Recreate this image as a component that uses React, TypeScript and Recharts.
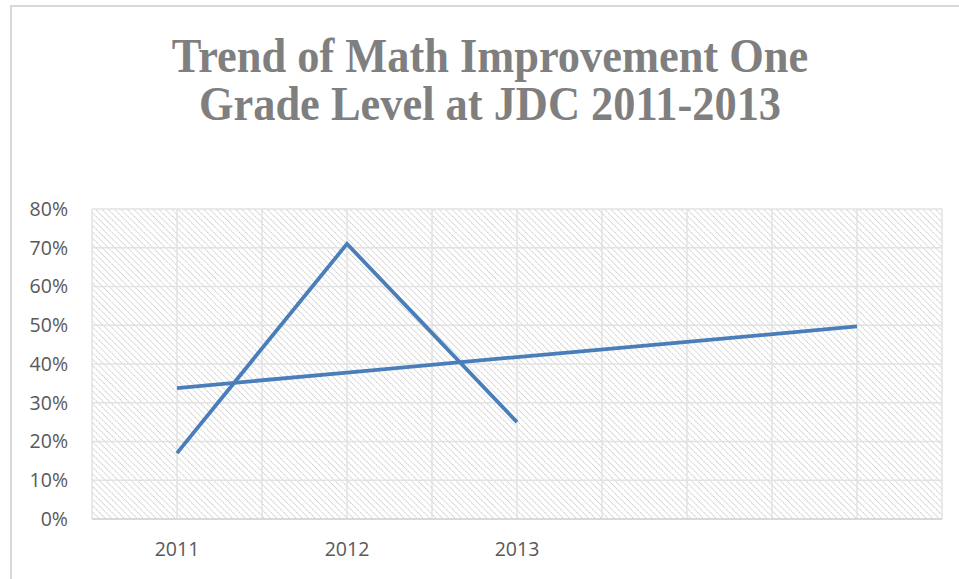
import React from 'react';
import { LineChart, Line, XAxis, YAxis, CartesianGrid } from 'recharts';

// categories along the x axis (last two slots are empty in the original workbook)
const categories = ['2011', '2012', '2013', '', ''];
// share of students improving one grade level, in percent
const improvement = [17, 71, 25, null, null];
// linear trendline values read at each category
const trendline = [33.8, 37.8, 41.8, 45.7, 49.7];
const yTicks = [0, 10, 20, 30, 40, 50, 60, 70, 80];

const BLUE = '#4a7ebb';
const LABEL = '#595959';

// each category sits in the middle of a two-unit slot so the grid also gets a line at the centre
const rows = categories.map((name, i) => ({
  name,
  pos: i * 2 + 1,
  improvement: improvement[i],
  trend: trendline[i],
}));
const xTicks = Array.from({ length: categories.length * 2 + 1 }, (_, i) => i);

const xLabel = (t: number) => {
  if (t % 2 === 0) return '';
  return categories[(t - 1) / 2] || '';
};

const App: React.FC = () => {
  return (
    <div
      style={{
        position: 'absolute',
        left: 0,
        top: 0,
        width: 959,
        height: 579,
        overflow: 'hidden',
        background: '#fff',
      }}
    >
      {/* chart frame, runs off the right and bottom edges */}
      <div
        style={{
          position: 'absolute',
          left: 10,
          top: 5,
          width: 1100,
          height: 700,
          border: '2px solid #d9d9d9',
        }}
      />
      <div
        style={{
          position: 'absolute',
          left: 490,
          top: 32,
          transform: 'translateX(-50%) scaleX(0.925)',
          whiteSpace: 'nowrap',
          textAlign: 'center',
          fontFamily: '"Liberation Serif", serif',
          fontWeight: 'bold',
          fontSize: 48,
          lineHeight: '48px',
          color: '#7f7f7f',
        }}
      >
        Trend of Math Improvement One
        <br />
        Grade Level at JDC 2011-2013
      </div>
      <div style={{ position: 'absolute', left: 0, top: 0 }}>
        <LineChart
          width={959}
          height={579}
          data={rows}
          margin={{ top: 209, right: 17, bottom: 30, left: 0 }}
        >
          <defs>
            <pattern id="hatch" width="4.5" height="4.5" patternUnits="userSpaceOnUse" patternTransform="rotate(-45)">
              <line x1="0" y1="0" x2="0" y2="4.5" stroke="#c9c9c9" strokeWidth="1.8" strokeDasharray="1.5 0.8" />
            </pattern>
          </defs>
          <CartesianGrid stroke="#e2e2e2" strokeWidth={1.5} fill="url(#hatch)" fillOpacity={1} />
          <XAxis
            dataKey="pos"
            type="number"
            domain={[0, 10]}
            ticks={xTicks}
            interval={0}
            tickFormatter={xLabel}
            axisLine={{ stroke: '#d9d9d9', strokeWidth: 2 }}
            tickLine={false}
            tickMargin={17}
            height={30}
            tick={{ fill: LABEL, fontSize: 19.5, fontFamily: '"Open Sans", sans-serif' }}
          />
          <YAxis
            type="number"
            domain={[0, 80]}
            ticks={yTicks}
            interval={0}
            tickFormatter={(v: number) => `${v}%`}
            axisLine={false}
            tickLine={false}
            tickMargin={18}
            width={92}
            tick={{ fill: LABEL, fontSize: 19.5, fontFamily: '"Open Sans", sans-serif' }}
          />
          <Line
            type="linear"
            dataKey="trend"
            stroke={BLUE}
            strokeWidth={3.8}
            dot={false}
            isAnimationActive={false}
          />
          <Line
            type="linear"
            dataKey="improvement"
            stroke={BLUE}
            strokeWidth={3.8}
            dot={false}
            isAnimationActive={false}
          />
        </LineChart>
      </div>
    </div>
  );
};

export default App;
